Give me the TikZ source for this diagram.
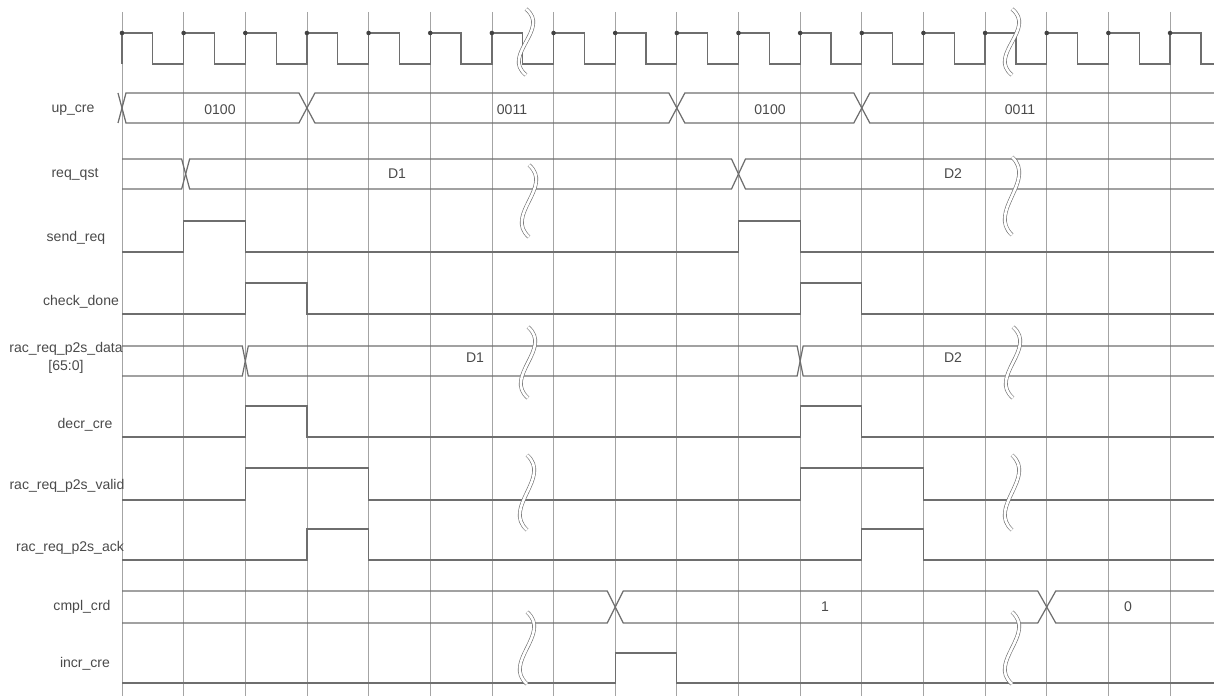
\documentclass[tikz,border=0pt]{standalone}
\usepackage{fontspec}
\setmainfont{Liberation Sans}
\usepackage{xcolor}
\usetikzlibrary{positioning}
\definecolor{wavegray}{HTML}{6E6E6E}
\definecolor{gridgray}{HTML}{A4A4A4}
\definecolor{txtgray}{HTML}{4A4A4A}

\begin{document}
\begin{tikzpicture}[
  x=0.02cm, y=-0.02cm,
  tickline/.style={draw=gridgray, line width=0.45pt},
  wave/.style={draw=wavegray, line width=0.7pt, line join=miter},
  brk/.style={draw=wavegray, line width=0.35pt, double=white, double distance=1.5pt},
  lbl/.style={font=\fontsize{8}{10}\selectfont, text=txtgray, inner sep=0pt, align=center},
  val/.style={font=\fontsize{8}{10}\selectfont, text=txtgray, inner sep=1pt}
]

%% Grid x-positions (one clock period apart)
\def\xz{122}
\def\tck{61.65}
\def\xend{1214}
\def\g#1{\xz+(#1)*\tck}

%% Break mark: x, top, bottom
\def\brkmark#1#2#3{
  \draw[brk] (#1,#2) .. controls ({#1+25},{#2+0.3*(#3-#2)}) and ({#1-25},{#2+0.7*(#3-#2)}) .. (#1,#3);
}

\useasboundingbox (0,0) rectangle (1214,696);

%% === GRID LINES ===
\foreach \i in {0,...,17}
  \draw[tickline] ({\g{\i}},12) -- ({\g{\i}},696);

%% === CLOCK ===
\draw[wave] ({\g{0}},64)
  \foreach \i in {0,...,16} {
    -- ({\g{\i}},33) -- ({\g{\i+0.5}},33) -- ({\g{\i+0.5}},64) -- ({\g{\i+1}},64)
  }
  -- ({\g{17}},33) -- ({\g{17.5}},33) -- ({\g{17.5}},64) -- (\xend,64);
\foreach \i in {0,...,17}
  \fill[wavegray!60!black] ({\g{\i}},33) circle (1.3pt);

%% === LABELS ===
\node[lbl] (l-upcre)  at (73,110)  {up\_cre};
\node[lbl] (l-reqqst) at (75,174)  {req\_qst};
\node[lbl] (l-send)   at (76,238)  {send\_req};
\node[lbl] (l-check)  at (81,302)  {check\_done};
\node[lbl] (l-data)   at (66,358)  {rac\_req\_p2s\_data\\{}[65:0]};
\node[lbl] (l-decr)   at (85,425)  {decr\_cre};
\node[lbl] (l-valid)  at (67,486)  {rac\_req\_p2s\_valid};
\node[lbl] (l-ack)    at (70,548)  {rac\_req\_p2s\_ack};
\node[lbl] (l-cmpl)   at (82,607)  {cmpl\_crd};
\node[lbl] (l-incr)   at (85,664)  {incr\_cre};

%% === up_cre (bus) ===
\draw[wave] ({\g{0}-4},123) -- ({\g{0}+4},93) -- ({\g{3}-8},93) -- ({\g{3}+8},123)
  -- ({\g{9}-8},123) -- ({\g{9}+8},93) -- ({\g{12}-8},93) -- ({\g{12}+8},123) -- (\xend,123);
\draw[wave] ({\g{0}-4},93) -- ({\g{0}+4},123) -- ({\g{3}-8},123) -- ({\g{3}+8},93)
  -- ({\g{9}-8},93) -- ({\g{9}+8},123) -- ({\g{12}-8},123) -- ({\g{12}+8},93) -- (\xend,93);
\node[val] (v-upcre1) at (220,110)  {0100};
\node[val] (v-upcre2) at (512,110)  {0011};
\node[val] (v-upcre3) at (770,110)  {0100};
\node[val] (v-upcre4) at (1020,110) {0011};

%% === req_qst (bus) ===
\draw[wave] ({\g{0}},159) -- ({\g{1}-2},159) -- ({\g{1}+6},189) -- ({\g{10}-7},189)
  -- ({\g{10}+7},159) -- (\xend,159);
\draw[wave] ({\g{0}},189) -- ({\g{1}-2},189) -- ({\g{1}+6},159) -- ({\g{10}-7},159)
  -- ({\g{10}+7},189) -- (\xend,189);
\node[val] (v-req1) at (397,174) {D1};
\node[val] (v-req2) at (953,174) {D2};

%% === send_req ===
\draw[wave] ({\g{0}},252) -- ({\g{1}},252) -- ({\g{1}},221) -- ({\g{2}},221) -- ({\g{2}},252)
  -- ({\g{10}},252) -- ({\g{10}},221) -- ({\g{11}},221) -- ({\g{11}},252) -- (\xend,252);

%% === check_done ===
\draw[wave] ({\g{0}},314) -- ({\g{2}},314) -- ({\g{2}},283) -- ({\g{3}},283) -- ({\g{3}},314)
  -- ({\g{11}},314) -- ({\g{11}},283) -- ({\g{12}},283) -- ({\g{12}},314) -- (\xend,314);

%% === rac_req_p2s_data (bus) ===
\draw[wave] ({\g{0}},346) -- ({\g{2}-3},346) -- ({\g{2}+3},376) -- ({\g{11}-3},376)
  -- ({\g{11}+3},346) -- (\xend,346);
\draw[wave] ({\g{0}},376) -- ({\g{2}-3},376) -- ({\g{2}+3},346) -- ({\g{11}-3},346)
  -- ({\g{11}+3},376) -- (\xend,376);
\node[val] (v-data1) at (475,358) {D1};
\node[val] (v-data2) at (953,358) {D2};

%% === decr_cre ===
\draw[wave] ({\g{0}},437) -- ({\g{2}},437) -- ({\g{2}},406) -- ({\g{3}},406) -- ({\g{3}},437)
  -- ({\g{11}},437) -- ({\g{11}},406) -- ({\g{12}},406) -- ({\g{12}},437) -- (\xend,437);

%% === rac_req_p2s_valid ===
\draw[wave] ({\g{0}},500) -- ({\g{2}},500) -- ({\g{2}},468) -- ({\g{4}},468) -- ({\g{4}},500)
  -- ({\g{11}},500) -- ({\g{11}},468) -- ({\g{13}},468) -- ({\g{13}},500) -- (\xend,500);

%% === rac_req_p2s_ack ===
\draw[wave] ({\g{0}},560) -- ({\g{3}},560) -- ({\g{3}},529) -- ({\g{4}},529) -- ({\g{4}},560)
  -- ({\g{12}},560) -- ({\g{12}},529) -- ({\g{13}},529) -- ({\g{13}},560) -- (\xend,560);

%% === cmpl_crd (bus) ===
\draw[wave] ({\g{0}},591) -- ({\g{8}-8},591) -- ({\g{8}+8},623) -- ({\g{15}-9},623)
  -- ({\g{15}+9},591) -- (\xend,591);
\draw[wave] ({\g{0}},623) -- ({\g{8}-8},623) -- ({\g{8}+8},591) -- ({\g{15}-9},591)
  -- ({\g{15}+9},623) -- (\xend,623);
\node[val] (v-cmpl1) at (825,607)  {1};
\node[val] (v-cmpl2) at (1128,607) {0};

%% === incr_cre ===
\draw[wave] ({\g{0}},683) -- ({\g{8}},683) -- ({\g{8}},653) -- ({\g{9}},653) -- ({\g{9}},683)
  -- (\xend,683);

%% === BREAK MARKS ===
\brkmark{526}{9}{75}
\brkmark{1012}{9}{75}
\brkmark{529}{165}{237}
\brkmark{1012}{157}{235}
\brkmark{528}{327}{398}
\brkmark{1013}{327}{398}
\brkmark{527}{455}{530}
\brkmark{1012}{455}{530}
\brkmark{527}{612}{684}
\brkmark{1012}{612}{684}

\end{tikzpicture}
\end{document}
